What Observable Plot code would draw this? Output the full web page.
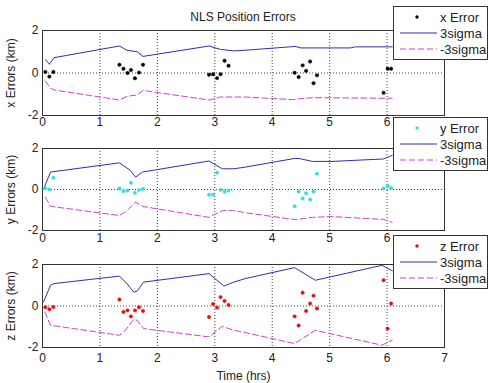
<!DOCTYPE html>
<html>
<head>
<meta charset="utf-8">
<script src="https://cdn.jsdelivr.net/npm/d3@7"></script>
<script src="https://cdn.jsdelivr.net/npm/@observablehq/plot@0.6"></script>
<style>
  body { margin: 0; background: #fff; font-family: "Liberation Sans", Arial, sans-serif; }
  #wrap { position: relative; width: 489px; height: 383px; overflow: hidden; background: #fff; }
  .panel { position: absolute; left: 0; }
  .legend { position: absolute; left: 393px; width: 95px; height: 54px; background: #fff; border: 1px solid #333; box-sizing: border-box; z-index: 5; }
  .title { position: absolute; top: 10px; left: 0; width: 486px; text-align: center; font-size: 12px; color: #222; z-index: 4; }
</style>
</head>
<body>
<div id="wrap"></div>
<script>
// ---------- data ----------
const titleText = "NLS Position Errors";
const xTicks = [0, 1, 2, 3, 4, 5, 6, 7];
const yTicks = [-2, 0, 2];
const errTimes = [0.05, 0.12, 0.19, 1.34, 1.41, 1.48, 1.54, 1.61, 1.68, 1.75,
                  2.90, 2.97, 3.04, 3.10, 3.17, 3.24, 4.39, 4.46, 4.53, 4.59, 4.66, 4.72, 4.78,
                  5.94, 6.01, 6.07];
const xErr = [0.05, -0.17, 0.05, 0.39, 0.2, 0, 0.14, -0.25, 0.02, 0.39,
              -0.08, -0.06, -0.24, -0.06, 0.58, 0.34, 0.01, -0.19, 0.36, 0.1, 0.54, -0.48, -0.11,
              -0.93, 0.2, 0.2];
const yErr = [0.06, 0, 0.57, 0.05, -0.08, -0.05, 0.33, -0.16, -0.02, 0.03,
              -0.25, -0.25, 0.82, -0.02, -0.11, -0.05, -0.82, -0.1, -0.44, -0.18, -0.49, -0.1, 0.77,
              0.05, 0.2, 0.08];
const zErr = [-0.06, -0.16, -0.05, 0.31, -0.29, -0.21, -0.5, -0.21, -0.06, -0.24,
              -0.53, 0.1, -0.08, 0.43, 0.24, 0.05, -0.5, -0.94, 0.64, -0.24, 0.12, 0.5, -0.12,
              1.24, -1.09, 0.12];

const xSigT = [0.05, 0.12, 0.2, 1.34, 1.47, 1.65, 1.75, 2.9, 3.1, 3.33, 3.53, 4.4, 4.5, 5.36, 5.45, 6.09];
const xSigV = [0.64, 0.41, 0.72, 1.27, 1.07, 1.0, 0.78, 1.27, 1.11, 1.04, 1.07, 1.25, 1.18, 1.18, 1.23, 1.23];
const xNSigT = [0.05, 0.14, 0.2, 1.34, 1.47, 1.65, 1.75, 2.9, 3.1, 3.53, 4.35, 4.7, 6.09];
const xNSigV = [-0.38, -0.72, -0.8, -1.27, -1.1, -1.03, -0.82, -1.27, -1.13, -1.13, -1.25, -1.16, -1.19];

const ySigT = [0.02, 0.14, 1.34, 1.53, 1.62, 1.74, 2.9, 3.13, 3.33, 3.53, 4.4, 4.49, 4.7, 5.04, 5.94, 6.09];
const ySigV = [0.03, 0.85, 1.3, 0.93, 0.6, 0.85, 1.39, 1.01, 1.01, 1.09, 1.52, 1.5, 1.37, 1.37, 1.49, 1.67];
const yNSigT = [0.05, 0.14, 1.34, 1.47, 1.62, 1.75, 2.9, 3.13, 3.33, 3.53, 4.4, 4.7, 5.04, 5.94, 6.09];
const yNSigV = [-0.38, -0.82, -1.27, -1.03, -0.62, -0.83, -1.36, -1.03, -1.03, -1.13, -1.47, -1.36, -1.32, -1.46, -1.6];

const zSigT = [0.02, 0.14, 0.2, 1.34, 1.47, 1.59, 1.65, 1.76, 2.9, 3.16, 3.33, 3.53, 4.39, 4.75, 5.91, 6.09];
const zSigV = [0.2, 1.0, 1.08, 1.44, 1.08, 0.67, 0.72, 1.15, 1.56, 0.96, 1.15, 1.32, 1.85, 1.24, 1.96, 1.7];
const zNSigT = [0.04, 0.14, 1.34, 1.42, 1.59, 1.65, 1.76, 2.9, 3.13, 3.33, 3.53, 4.39, 4.75, 5.91, 6.09];
const zNSigV = [-0.29, -0.93, -1.41, -1.25, -0.64, -0.69, -1.09, -1.49, -0.98, -1.17, -1.28, -1.81, -1.17, -1.89, -1.65];

const panelNames = ["x", "y", "z"];
const yLabels = ["x Errors (km)", "y Errors (km)", "z Errors (km)"];
const legendLabels = [["x Error", "3sigma", "-3sigma"], ["y Error", "3sigma", "-3sigma"], ["z Error", "3sigma", "-3sigma"]];
const xLabel = "Time (hrs)";

// ---------- style ----------
const errColors = ["#000000", "#33dddd", "#e01010"];
const sigColor = "#3030a8";
const nsigColor = "#cc44cc";
const font = "'Liberation Sans', Arial, sans-serif";

const layout = [
  {top: 0,   height: 138, mt: 30, mb: 23, pad: 2},
  {top: 138, height: 114, mt: 10, mb: 22, pad: 3},
  {top: 252, height: 131, mt: 12, mb: 36, pad: 6}
];
const legendTops = [6, 117, 235];

const errs = [xErr, yErr, zErr];
const sigs = [[xSigT, xSigV], [ySigT, ySigV], [zSigT, zSigV]];
const nsigs = [[xNSigT, xNSigV], [yNSigT, yNSigV], [zNSigT, zNSigV]];

const wrap = document.getElementById("wrap");
const title = document.createElement("div");
title.className = "title";
title.textContent = titleText;
wrap.appendChild(title);

panelNames.forEach((name, k) => {
  const L = layout[k];
  const pts = errTimes.map((t, i) => ({t, v: errs[k][i]}));
  const sp = sigs[k][0].map((t, i) => ({t, v: sigs[k][1][i]}));
  const sn = nsigs[k][0].map((t, i) => ({t, v: nsigs[k][1][i]}));
  const last = k === 2;
  // in the upper two panels the "7" label is hidden beneath the next legend
  const shownX = last ? xTicks : xTicks.slice(0, -1);
  const svg = Plot.plot({
    width: 489,
    height: L.height,
    marginLeft: 42,
    marginRight: 45,
    marginTop: L.mt,
    marginBottom: L.mb,
    style: {fontFamily: font, fontSize: "12px", color: "#222", background: "transparent", overflow: "visible"},
    x: {domain: [0, 7], ticks: shownX, tickSize: 0, tickPadding: L.pad, tickFormat: d => String(d),
        label: last ? xLabel : null, labelAnchor: "center", labelOffset: 32, labelArrow: "none"},
    y: {domain: [-2, 2], ticks: yTicks, tickSize: 0, tickPadding: 4, tickFormat: d => String(d),
        label: yLabels[k], labelAnchor: "center", labelOffset: 36, labelArrow: "none"},
    marks: [
      Plot.gridX(xTicks.slice(1, -1), {stroke: "#000", strokeOpacity: 0.75, strokeDasharray: "1,2"}),
      Plot.gridY([0], {stroke: "#000", strokeOpacity: 0.75, strokeDasharray: "1,2"}),
      Plot.line(sp, {x: "t", y: "v", stroke: sigColor, strokeWidth: 1}),
      Plot.line(sn, {x: "t", y: "v", stroke: nsigColor, strokeWidth: 1, strokeDasharray: "6,3"}),
      Plot.dot(pts, {x: "t", y: "v", r: 1.7, fill: errColors[k], stroke: errColors[k], strokeWidth: 0.5}),
      Plot.frame({stroke: "#333"})
    ]
  });
  const holder = document.createElement("div");
  holder.className = "panel";
  holder.style.top = L.top + "px";
  holder.appendChild(svg);
  wrap.appendChild(holder);

  // legend
  const lg = document.createElement("div");
  lg.className = "legend";
  lg.style.top = legendTops[k] + "px";
  const ns = "http://www.w3.org/2000/svg";
  const s = document.createElementNS(ns, "svg");
  s.setAttribute("width", 93); s.setAttribute("height", 52);
  s.style.display = "block";
  const rows = [10, 26, 42];
  legendLabels[k].forEach((lab, j) => {
    const y = rows[j];
    if (j === 0) {
      const c = document.createElementNS(ns, "circle");
      c.setAttribute("cx", 23); c.setAttribute("cy", y); c.setAttribute("r", 1.7);
      c.setAttribute("fill", errColors[k]);
      s.appendChild(c);
    } else {
      const l = document.createElementNS(ns, "line");
      l.setAttribute("x1", 6); l.setAttribute("x2", 43); l.setAttribute("y1", y); l.setAttribute("y2", y);
      l.setAttribute("stroke", j === 1 ? sigColor : nsigColor);
      if (j === 2) l.setAttribute("stroke-dasharray", "6,3");
      s.appendChild(l);
    }
    const t = document.createElementNS(ns, "text");
    t.setAttribute("x", 46); t.setAttribute("y", y); t.setAttribute("dy", "0.35em");
    t.setAttribute("font-size", "13px"); t.setAttribute("font-family", font); t.setAttribute("fill", "#222");
    t.textContent = lab;
    s.appendChild(t);
  });
  lg.appendChild(s);
  wrap.appendChild(lg);
});
</script>
</body>
</html>
